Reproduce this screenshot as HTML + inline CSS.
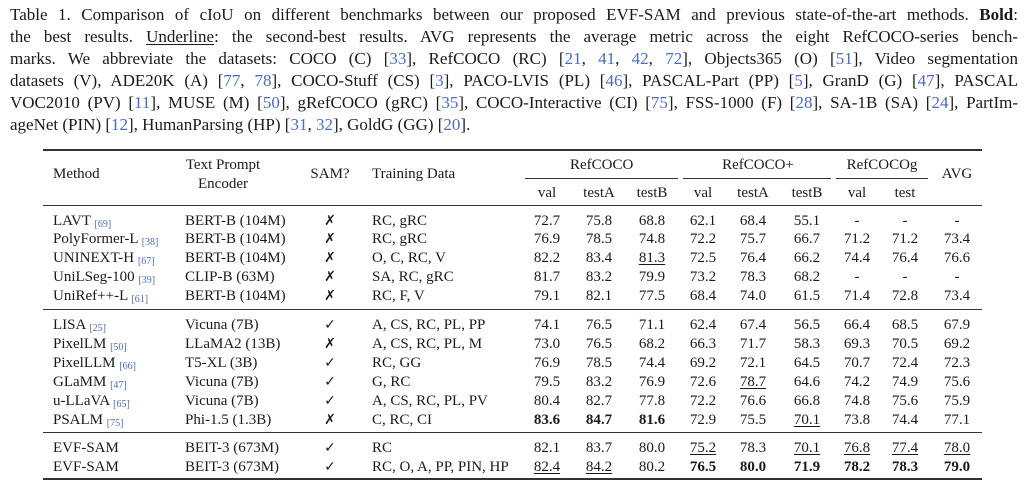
<!DOCTYPE html>
<html><head><meta charset="utf-8">
<style>
body{margin:0;width:1024px;height:485px;background:#fff;position:relative;overflow:hidden;font-family:"Liberation Serif","DejaVu Serif",serif;color:#1a1a1a}
.cl{position:absolute;left:10px;width:1008px;font-size:17px;line-height:22px;text-align:justify;text-align-last:justify;white-space:nowrap}
.cl.last{text-align-last:left}
.c{color:#4a6bc0}
.r{position:absolute;background:#333}
.t{position:absolute;font-size:15px;line-height:18px;white-space:nowrap}
.n{position:absolute;font-size:15px;line-height:18px;width:60px;text-align:center}
.m{position:absolute;width:30px;text-align:center;font-family:"DejaVu Sans",sans-serif;font-size:14px;line-height:18px}
sub.s{font-size:10px;color:#4a6bc0;vertical-align:-2px}
b{font-weight:bold}
u{text-decoration:underline;text-underline-offset:2px}
</style></head><body>
<div class="cl" style="top:4px">Table 1. Comparison of cIoU on different benchmarks between our proposed EVF-SAM and previous state-of-the-art methods. <b>Bold</b>:</div>
<div class="cl" style="top:26px">the best results. <u>Underline</u>: the second-best results. AVG represents the average metric across the eight RefCOCO-series bench-</div>
<div class="cl" style="top:48px">marks. We abbreviate the datasets: COCO (C) [<span class="c">33</span>], RefCOCO (RC) [<span class="c">21</span>, <span class="c">41</span>, <span class="c">42</span>, <span class="c">72</span>], Objects365 (O) [<span class="c">51</span>], Video segmentation</div>
<div class="cl" style="top:70px">datasets (V), ADE20K (A) [<span class="c">77</span>, <span class="c">78</span>], COCO-Stuff (CS) [<span class="c">3</span>], PACO-LVIS (PL) [<span class="c">46</span>], PASCAL-Part (PP) [<span class="c">5</span>], GranD (G) [<span class="c">47</span>], PASCAL</div>
<div class="cl" style="top:92px">VOC2010 (PV) [<span class="c">11</span>], MUSE (M) [<span class="c">50</span>], gRefCOCO (gRC) [<span class="c">35</span>], COCO-Interactive (CI) [<span class="c">75</span>], FSS-1000 (F) [<span class="c">28</span>], SA-1B (SA) [<span class="c">24</span>], PartIm-</div>
<div class="cl last" style="top:114px">ageNet (PIN) [<span class="c">12</span>], HumanParsing (HP) [<span class="c">31</span>, <span class="c">32</span>], GoldG (GG) [<span class="c">20</span>].</div>

<div class="r" style="left:43px;width:939px;top:149px;height:1.5px"></div>
<div class="r" style="left:525px;width:153px;top:178px;height:1px"></div>
<div class="r" style="left:683px;width:148px;top:178px;height:1px"></div>
<div class="r" style="left:836px;width:92px;top:178px;height:1px"></div>
<div class="r" style="left:43px;width:939px;top:205px;height:1px"></div>
<div class="r" style="left:43px;width:939px;top:309px;height:1px"></div>
<div class="r" style="left:43px;width:939px;top:432px;height:1px"></div>
<div class="r" style="left:43px;width:939px;top:478px;height:1.5px"></div>

<div class="t" style="left:53px;top:165px">Method</div>
<div class="t" style="left:180px;top:156px;width:86px;text-align:center">Text Prompt</div>
<div class="t" style="left:180px;top:175px;width:86px;text-align:center">Encoder</div>
<div class="t" style="left:305px;top:165px;width:50px;text-align:center">SAM?</div>
<div class="t" style="left:372px;top:165px">Training Data</div>
<div class="n" style="left:570px;top:156px">RefCOCO</div>
<div class="n" style="left:718px;top:156px;width:80px">RefCOCO+</div>
<div class="n" style="left:842px;top:156px;width:80px">RefCOCOg</div>
<div class="n" style="left:927px;top:165px">AVG</div>
<div class="n" style="left:517px;top:184px">val</div>
<div class="n" style="left:569px;top:184px">testA</div>
<div class="n" style="left:622px;top:184px">testB</div>
<div class="n" style="left:673px;top:184px">val</div>
<div class="n" style="left:723px;top:184px">testA</div>
<div class="n" style="left:777px;top:184px">testB</div>
<div class="n" style="left:827px;top:184px">val</div>
<div class="n" style="left:875px;top:184px">test</div>

<!-- rows: centers -->
<!-- LAVT 221 -->
<div class="t" style="left:53px;top:212px">LAVT <sub class="s">[69]</sub></div>
<div class="t" style="left:185px;top:212px">BERT-B (104M)</div>
<div class="m" style="left:315px;top:212px">✗</div>
<div class="t" style="left:372px;top:212px">RC, gRC</div>
<div class="n" style="left:517px;top:212px">72.7</div><div class="n" style="left:569px;top:212px">75.8</div><div class="n" style="left:622px;top:212px">68.8</div><div class="n" style="left:673px;top:212px">62.1</div><div class="n" style="left:723px;top:212px">68.4</div><div class="n" style="left:777px;top:212px">55.1</div><div class="n" style="left:827px;top:212px">-</div><div class="n" style="left:875px;top:212px">-</div><div class="n" style="left:927px;top:212px">-</div>

<div class="t" style="left:53px;top:230px">PolyFormer-L <sub class="s">[38]</sub></div>
<div class="t" style="left:185px;top:230px">BERT-B (104M)</div>
<div class="m" style="left:315px;top:230px">✗</div>
<div class="t" style="left:372px;top:230px">RC, gRC</div>
<div class="n" style="left:517px;top:230px">76.9</div><div class="n" style="left:569px;top:230px">78.5</div><div class="n" style="left:622px;top:230px">74.8</div><div class="n" style="left:673px;top:230px">72.2</div><div class="n" style="left:723px;top:230px">75.7</div><div class="n" style="left:777px;top:230px">66.7</div><div class="n" style="left:827px;top:230px">71.2</div><div class="n" style="left:875px;top:230px">71.2</div><div class="n" style="left:927px;top:230px">73.4</div>

<div class="t" style="left:53px;top:249px">UNINEXT-H <sub class="s">[67]</sub></div>
<div class="t" style="left:185px;top:249px">BERT-B (104M)</div>
<div class="m" style="left:315px;top:249px">✗</div>
<div class="t" style="left:372px;top:249px">O, C, RC, V</div>
<div class="n" style="left:517px;top:249px">82.2</div><div class="n" style="left:569px;top:249px">83.4</div><div class="n" style="left:622px;top:249px"><u>81.3</u></div><div class="n" style="left:673px;top:249px">72.5</div><div class="n" style="left:723px;top:249px">76.4</div><div class="n" style="left:777px;top:249px">66.2</div><div class="n" style="left:827px;top:249px">74.4</div><div class="n" style="left:875px;top:249px">76.4</div><div class="n" style="left:927px;top:249px">76.6</div>

<div class="t" style="left:53px;top:268px">UniLSeg-100 <sub class="s">[39]</sub></div>
<div class="t" style="left:185px;top:268px">CLIP-B (63M)</div>
<div class="m" style="left:315px;top:268px">✗</div>
<div class="t" style="left:372px;top:268px">SA, RC, gRC</div>
<div class="n" style="left:517px;top:268px">81.7</div><div class="n" style="left:569px;top:268px">83.2</div><div class="n" style="left:622px;top:268px">79.9</div><div class="n" style="left:673px;top:268px">73.2</div><div class="n" style="left:723px;top:268px">78.3</div><div class="n" style="left:777px;top:268px">68.2</div><div class="n" style="left:827px;top:268px">-</div><div class="n" style="left:875px;top:268px">-</div><div class="n" style="left:927px;top:268px">-</div>

<div class="t" style="left:53px;top:287px">UniRef++-L <sub class="s">[61]</sub></div>
<div class="t" style="left:185px;top:287px">BERT-B (104M)</div>
<div class="m" style="left:315px;top:287px">✗</div>
<div class="t" style="left:372px;top:287px">RC, F, V</div>
<div class="n" style="left:517px;top:287px">79.1</div><div class="n" style="left:569px;top:287px">82.1</div><div class="n" style="left:622px;top:287px">77.5</div><div class="n" style="left:673px;top:287px">68.4</div><div class="n" style="left:723px;top:287px">74.0</div><div class="n" style="left:777px;top:287px">61.5</div><div class="n" style="left:827px;top:287px">71.4</div><div class="n" style="left:875px;top:287px">72.8</div><div class="n" style="left:927px;top:287px">73.4</div>

<div class="t" style="left:53px;top:316px">LISA <sub class="s">[25]</sub></div>
<div class="t" style="left:185px;top:316px">Vicuna (7B)</div>
<div class="m" style="left:315px;top:316px">✓</div>
<div class="t" style="left:372px;top:316px">A, CS, RC, PL, PP</div>
<div class="n" style="left:517px;top:316px">74.1</div><div class="n" style="left:569px;top:316px">76.5</div><div class="n" style="left:622px;top:316px">71.1</div><div class="n" style="left:673px;top:316px">62.4</div><div class="n" style="left:723px;top:316px">67.4</div><div class="n" style="left:777px;top:316px">56.5</div><div class="n" style="left:827px;top:316px">66.4</div><div class="n" style="left:875px;top:316px">68.5</div><div class="n" style="left:927px;top:316px">67.9</div>

<div class="t" style="left:53px;top:335px">PixelLM <sub class="s">[50]</sub></div>
<div class="t" style="left:185px;top:335px">LLaMA2 (13B)</div>
<div class="m" style="left:315px;top:335px">✗</div>
<div class="t" style="left:372px;top:335px">A, CS, RC, PL, M</div>
<div class="n" style="left:517px;top:335px">73.0</div><div class="n" style="left:569px;top:335px">76.5</div><div class="n" style="left:622px;top:335px">68.2</div><div class="n" style="left:673px;top:335px">66.3</div><div class="n" style="left:723px;top:335px">71.7</div><div class="n" style="left:777px;top:335px">58.3</div><div class="n" style="left:827px;top:335px">69.3</div><div class="n" style="left:875px;top:335px">70.5</div><div class="n" style="left:927px;top:335px">69.2</div>

<div class="t" style="left:53px;top:354px">PixelLLM <sub class="s">[66]</sub></div>
<div class="t" style="left:185px;top:354px">T5-XL (3B)</div>
<div class="m" style="left:315px;top:354px">✓</div>
<div class="t" style="left:372px;top:354px">RC, GG</div>
<div class="n" style="left:517px;top:354px">76.9</div><div class="n" style="left:569px;top:354px">78.5</div><div class="n" style="left:622px;top:354px">74.4</div><div class="n" style="left:673px;top:354px">69.2</div><div class="n" style="left:723px;top:354px">72.1</div><div class="n" style="left:777px;top:354px">64.5</div><div class="n" style="left:827px;top:354px">70.7</div><div class="n" style="left:875px;top:354px">72.4</div><div class="n" style="left:927px;top:354px">72.3</div>

<div class="t" style="left:53px;top:373px">GLaMM <sub class="s">[47]</sub></div>
<div class="t" style="left:185px;top:373px">Vicuna (7B)</div>
<div class="m" style="left:315px;top:373px">✓</div>
<div class="t" style="left:372px;top:373px">G, RC</div>
<div class="n" style="left:517px;top:373px">79.5</div><div class="n" style="left:569px;top:373px">83.2</div><div class="n" style="left:622px;top:373px">76.9</div><div class="n" style="left:673px;top:373px">72.6</div><div class="n" style="left:723px;top:373px"><u>78.7</u></div><div class="n" style="left:777px;top:373px">64.6</div><div class="n" style="left:827px;top:373px">74.2</div><div class="n" style="left:875px;top:373px">74.9</div><div class="n" style="left:927px;top:373px">75.6</div>

<div class="t" style="left:53px;top:392px">u-LLaVA <sub class="s">[65]</sub></div>
<div class="t" style="left:185px;top:392px">Vicuna (7B)</div>
<div class="m" style="left:315px;top:392px">✓</div>
<div class="t" style="left:372px;top:392px">A, CS, RC, PL, PV</div>
<div class="n" style="left:517px;top:392px">80.4</div><div class="n" style="left:569px;top:392px">82.7</div><div class="n" style="left:622px;top:392px">77.8</div><div class="n" style="left:673px;top:392px">72.2</div><div class="n" style="left:723px;top:392px">76.6</div><div class="n" style="left:777px;top:392px">66.8</div><div class="n" style="left:827px;top:392px">74.8</div><div class="n" style="left:875px;top:392px">75.6</div><div class="n" style="left:927px;top:392px">75.9</div>

<div class="t" style="left:53px;top:411px">PSALM <sub class="s">[75]</sub></div>
<div class="t" style="left:185px;top:411px">Phi-1.5 (1.3B)</div>
<div class="m" style="left:315px;top:411px">✗</div>
<div class="t" style="left:372px;top:411px">C, RC, CI</div>
<div class="n" style="left:517px;top:411px"><b>83.6</b></div><div class="n" style="left:569px;top:411px"><b>84.7</b></div><div class="n" style="left:622px;top:411px"><b>81.6</b></div><div class="n" style="left:673px;top:411px">72.9</div><div class="n" style="left:723px;top:411px">75.5</div><div class="n" style="left:777px;top:411px"><u>70.1</u></div><div class="n" style="left:827px;top:411px">73.8</div><div class="n" style="left:875px;top:411px">74.4</div><div class="n" style="left:927px;top:411px">77.1</div>

<div class="t" style="left:53px;top:439px">EVF-SAM</div>
<div class="t" style="left:185px;top:439px">BEIT-3 (673M)</div>
<div class="m" style="left:315px;top:439px">✓</div>
<div class="t" style="left:372px;top:439px">RC</div>
<div class="n" style="left:517px;top:439px">82.1</div><div class="n" style="left:569px;top:439px">83.7</div><div class="n" style="left:622px;top:439px">80.0</div><div class="n" style="left:673px;top:439px"><u>75.2</u></div><div class="n" style="left:723px;top:439px">78.3</div><div class="n" style="left:777px;top:439px"><u>70.1</u></div><div class="n" style="left:827px;top:439px"><u>76.8</u></div><div class="n" style="left:875px;top:439px"><u>77.4</u></div><div class="n" style="left:927px;top:439px"><u>78.0</u></div>

<div class="t" style="left:53px;top:458px">EVF-SAM</div>
<div class="t" style="left:185px;top:458px">BEIT-3 (673M)</div>
<div class="m" style="left:315px;top:458px">✓</div>
<div class="t" style="left:372px;top:458px">RC, O, A, PP, PIN, HP</div>
<div class="n" style="left:517px;top:458px"><u>82.4</u></div><div class="n" style="left:569px;top:458px"><u>84.2</u></div><div class="n" style="left:622px;top:458px">80.2</div><div class="n" style="left:673px;top:458px"><b>76.5</b></div><div class="n" style="left:723px;top:458px"><b>80.0</b></div><div class="n" style="left:777px;top:458px"><b>71.9</b></div><div class="n" style="left:827px;top:458px"><b>78.2</b></div><div class="n" style="left:875px;top:458px"><b>78.3</b></div><div class="n" style="left:927px;top:458px"><b>79.0</b></div>
</body></html>
